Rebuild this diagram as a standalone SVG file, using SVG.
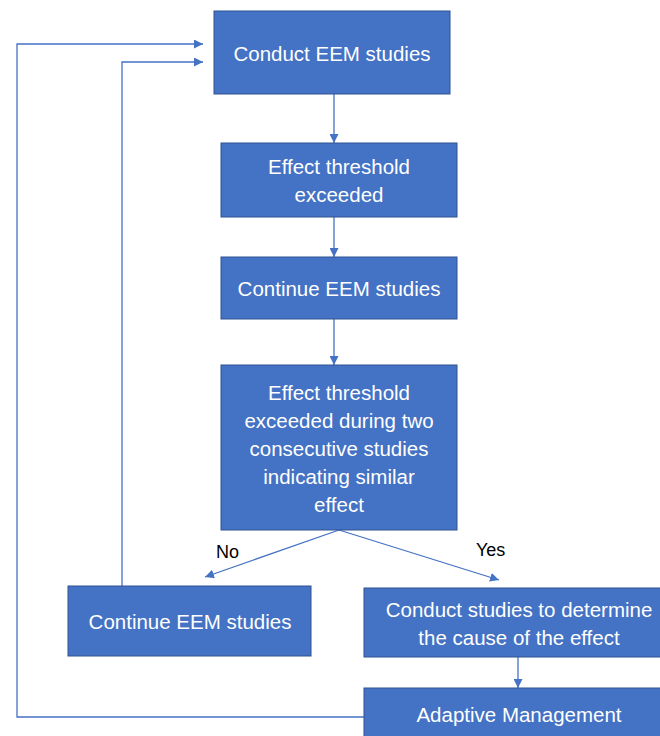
<svg xmlns="http://www.w3.org/2000/svg" width="660" height="736" viewBox="0 0 660 736">
<defs>
<style>
.box{fill:#4472C4;stroke:#2F528F;stroke-width:1}
.t{font-family:"Liberation Sans",Arial,sans-serif;font-size:20.5px;fill:#fff;text-anchor:middle}
.lbl{font-family:"Liberation Sans",Arial,sans-serif;font-size:18px;fill:#000}
.c{fill:none;stroke:#4472C4;stroke-width:1.3}
</style>
<marker id="ah" viewBox="0 0 10 10" refX="10" refY="5" markerWidth="9" markerHeight="9" markerUnits="userSpaceOnUse" orient="auto">
<path d="M0,0 L10,5 L0,10 z" fill="#4472C4"/>
</marker>
</defs>
<rect width="660" height="736" fill="#fff"/>
<g id="connectors">
<line class="c" x1="334" y1="94" x2="334" y2="143" marker-end="url(#ah)"/>
<line class="c" x1="334" y1="217" x2="334" y2="257" marker-end="url(#ah)"/>
<line class="c" x1="334" y1="319" x2="334" y2="365" marker-end="url(#ah)"/>
<line class="c" x1="339" y1="530" x2="205" y2="577" marker-end="url(#ah)"/>
<line class="c" x1="339" y1="530" x2="499" y2="580" marker-end="url(#ah)"/>
<line class="c" x1="518" y1="657" x2="518" y2="688" marker-end="url(#ah)"/>
<polyline class="c" points="122,586 122,62 203,62" marker-end="url(#ah)"/>
<polyline class="c" points="364,717 17,717 17,44 203,44" marker-end="url(#ah)"/>
<text class="lbl" x="216" y="558">No</text>
<text class="lbl" x="476" y="556">Yes</text>
</g>
<g id="n1"><rect class="box" x="214" y="11" width="236" height="83"/><text class="t" x="332" y="61">Conduct EEM studies</text></g>
<g id="n2"><rect class="box" x="221" y="143" width="236" height="74"/><text class="t" x="339" y="174">Effect threshold</text><text class="t" x="339" y="202">exceeded</text></g>
<g id="n3"><rect class="box" x="221" y="257" width="236" height="62"/><text class="t" x="339" y="296">Continue EEM studies</text></g>
<g id="n4"><rect class="box" x="221" y="365" width="236" height="165"/>
<text class="t" x="339" y="400">Effect threshold</text>
<text class="t" x="339" y="428">exceeded during two</text>
<text class="t" x="339" y="456">consecutive studies</text>
<text class="t" x="339" y="484">indicating similar</text>
<text class="t" x="339" y="512">effect</text></g>
<g id="n5"><rect class="box" x="68" y="586" width="243" height="70"/><text class="t" x="190" y="629">Continue EEM studies</text></g>
<g id="n6"><rect class="box" x="364" y="588" width="300" height="69"/><text class="t" x="519" y="617">Conduct studies to determine</text><text class="t" x="519" y="645">the cause of the effect</text></g>
<g id="n7"><rect class="box" x="364" y="688" width="300" height="52"/><text class="t" x="519" y="722">Adaptive Management</text></g>
</svg>
